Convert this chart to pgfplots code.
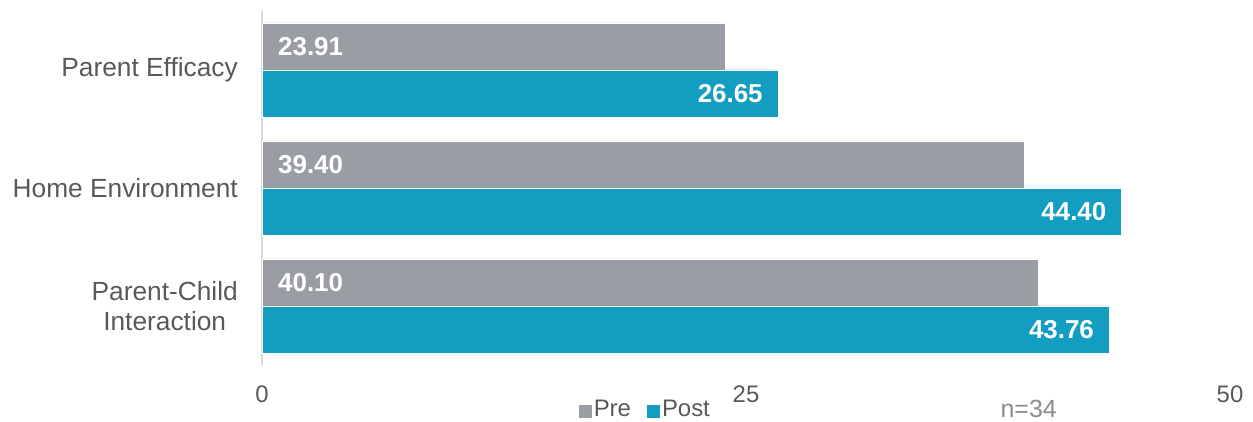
\documentclass[border=0pt]{standalone}
\usepackage{fontspec}
\setmainfont{Liberation Sans}
\usepackage{pgfplots}
\usepackage{pgfplotstable}
\pgfplotsset{compat=1.18}
\definecolor{pregray}{HTML}{9A9DA4}
\definecolor{postteal}{HTML}{139DC1}
\definecolor{txtgray}{HTML}{595959}
\definecolor{ngray}{HTML}{8C8C8C}
\definecolor{axgray}{HTML}{D9D9D9}
\pgfplotstableread{
y pre post
2 23.91 26.65
1 39.40 44.40
0 40.10 43.76
}\datatable
\begin{document}
\begin{tikzpicture}
\path[use as bounding box] (0,0) rectangle (1253bp,422bp);
\begin{axis}[
  at={(262bp,57bp)}, anchor=south west,
  scale only axis, width=968bp, height=354bp,
  xmin=0, xmax=50, ymin=-0.5, ymax=2.5,
  xbar, bar width=47bp,
  xtick={0,25,50}, ytick={0,1,2},
  yticklabels={{Parent-Child\\Interaction},{Home Environment},{Parent Efficacy}},
  major tick length=0pt,
  axis x line*=bottom, axis y line*=left,
  x axis line style={draw=none},
  y axis line style={draw=axgray, line width=2bp},
  ticklabel style={font=\fontsize{24}{30}\selectfont, text=txtgray},
  yticklabel style={font=\fontsize{26.4}{30}\selectfont, align=center, inner sep=0pt, xshift=-24bp},
  xticklabel style={anchor=base, inner sep=0pt, yshift=-37bp},
  /pgf/number format/assume math mode=true,
  legend columns=-1,
  legend style={at={(0.396,-0.1254)}, anchor=center, draw=none, fill=none,
    font=\fontsize{24}{28}\selectfont, text=txtgray,
    nodes={inner sep=2bp},
    /tikz/every even column/.append style={column sep=14bp}},
  legend image code/.code={\path[#1, draw=none] (0bp,-8.5bp) rectangle (13bp,4.5bp);},
  clip=false,
]
\addplot[fill=pregray, draw=white, line width=0.6bp, bar shift=23.5bp] table[x=pre, y=y] {\datatable};
\addplot[fill=postteal, draw=white, line width=0.6bp, bar shift=-23.5bp,
  nodes near coords={\pgfmathprintnumber[fixed, fixed zerofill, precision=2]{\pgfplotspointmeta}},
  point meta=x,
  every node near coord/.style={anchor=east, inner sep=0pt, xshift=-15bp, yshift=-23.5bp, text=white,
    font=\fontsize{26}{30}\selectfont\bfseries}] table[x=post, y=y] {\datatable};
\addplot[forget plot, draw=none, fill=none, bar shift=23.5bp,
  nodes near coords={\pgfmathprintnumber[fixed, fixed zerofill, precision=2]{\pgfplotspointmeta}},
  point meta=explicit,
  every node near coord/.style={anchor=west, inner sep=0pt, xshift=16bp, yshift=23.5bp, text=white,
    font=\fontsize{26}{30}\selectfont\bfseries}] table[x expr=0, y=y, meta=pre] {\datatable};
\legend{Pre, Post}
\node[anchor=base, font=\fontsize{25}{30}\selectfont, text=ngray] at (rel axis cs:0.792,-0.1497) {n=34};
\end{axis}
\end{tikzpicture}
\end{document}
